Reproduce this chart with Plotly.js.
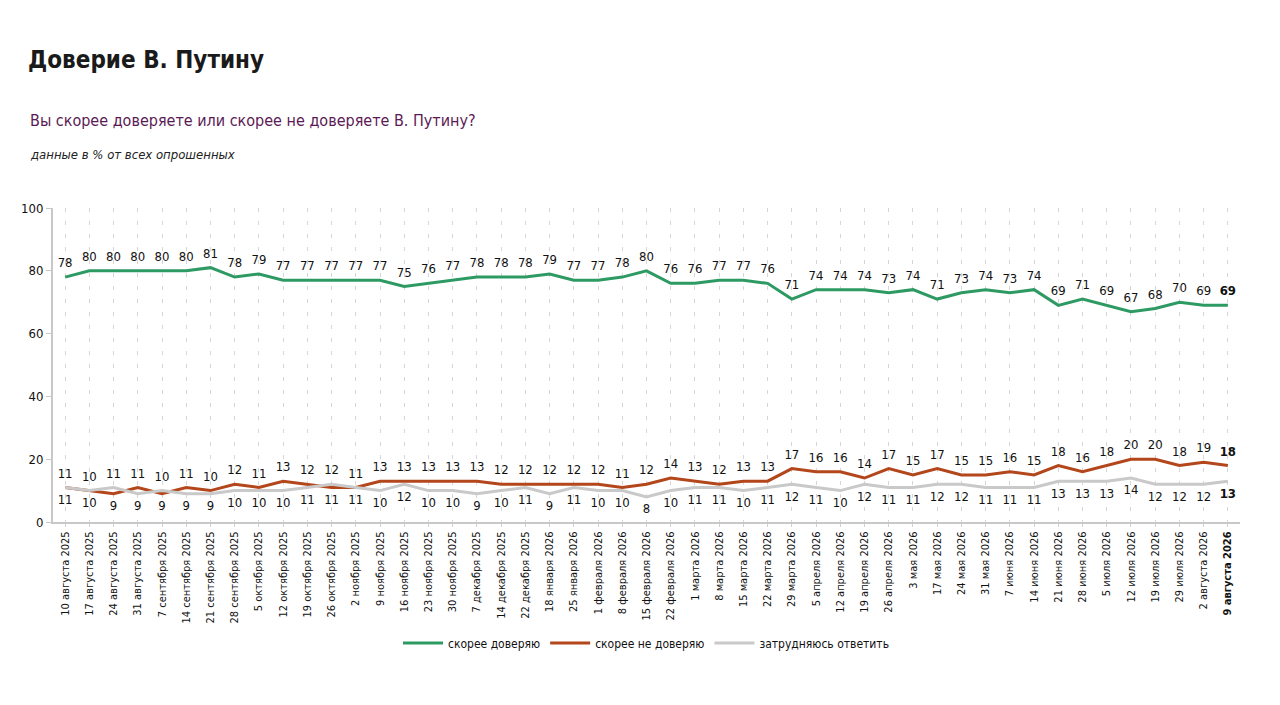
<!DOCTYPE html>
<html>
<head>
<meta charset="utf-8">
<script src="https://cdn.plot.ly/plotly-3.0.1.min.js"></script>
<style>
  html, body { margin: 0; padding: 0; background: #fff; }
  #chart { width: 1280px; height: 705px; }
</style>
</head>
<body>
<div id="chart"></div>
<script>
var dates = [
  '10 августа 2025', '17 августа 2025', '24 августа 2025', '31 августа 2025',
  '7 сентября 2025', '14 сентября 2025', '21 сентября 2025', '28 сентября 2025',
  '5 октября 2025', '12 октября 2025', '19 октября 2025', '26 октября 2025',
  '2 ноября 2025', '9 ноября 2025', '16 ноября 2025', '23 ноября 2025', '30 ноября 2025',
  '7 декабря 2025', '14 декабря 2025', '22 декабря 2025',
  '18 января 2026', '25 января 2026',
  '1 февраля 2026', '8 февраля 2026', '15 февраля 2026', '22 февраля 2026',
  '1 марта 2026', '8 марта 2026', '15 марта 2026', '22 марта 2026', '29 марта 2026',
  '5 апреля 2026', '12 апреля 2026', '19 апреля 2026', '26 апреля 2026',
  '3 мая 2026', '17 мая 2026', '24 мая 2026', '31 мая 2026',
  '7 июня 2026', '14 июня 2026', '21 июня 2026', '28 июня 2026',
  '5 июля 2026', '12 июля 2026', '19 июля 2026', '29 июля 2026',
  '2 августа 2026', '9 августа 2026'
];

var trust = [78, 80, 80, 80, 80, 80, 81, 78, 79, 77, 77, 77, 77, 77, 75, 76, 77,
  78, 78, 78, 79, 77, 77, 78, 80, 76, 76, 77, 77, 76, 71, 74, 74, 74, 73, 74,
  71, 73, 74, 73, 74, 69, 71, 69, 67, 68, 70, 69, 69];

var distrust = [11, 10, 9, 11, 9, 11, 10, 12, 11, 13, 12, 11, 11, 13, 13, 13, 13,
  13, 12, 12, 12, 12, 12, 11, 12, 14, 13, 12, 13, 13, 17, 16, 16, 14, 17, 15,
  17, 15, 15, 16, 15, 18, 16, 18, 20, 20, 18, 19, 18];

var unsure = [11, 10, 11, 9, 10, 9, 9, 10, 10, 10, 11, 12, 11, 10, 12, 10, 10,
  9, 10, 11, 9, 11, 10, 10, 8, 10, 11, 11, 10, 11, 12, 11, 10, 12, 11, 11,
  12, 12, 11, 11, 11, 13, 13, 13, 14, 12, 12, 12, 13];

var FONT = 'Liberation Sans Narrow, DejaVu Sans Condensed, Arial Narrow, sans-serif';
var last = dates.length - 1;

function labels(arr) {
  return arr.map(function(v, i) { return i == last ? '<b>' + v + '</b>' : String(v); });
}

var xs = dates.map(function(d, i) { return i; });
var ticks = dates.map(function(d, i) { return i == last ? '<b>' + d + '</b>' : d; });

// the higher of the two low lines gets its label on top
var posRed = distrust.map(function(v, i) { return v >= unsure[i] ? 'top center' : 'bottom center'; });
var posGray = unsure.map(function(v, i) { return v > distrust[i] ? 'top center' : 'bottom center'; });

// invisible markers just push the labels a bit away from the line
var ghost = {size: 9, color: 'rgba(0,0,0,0)'};

var trace1 = {
  x: xs, y: trust, name: 'скорее доверяю',
  type: 'scatter', mode: 'lines+markers+text',
  line: {color: '#2e9a63', width: 3}, marker: ghost,
  text: labels(trust), textposition: 'top center',
  textfont: {family: FONT, size: 13, color: '#111'},
  cliponaxis: false
};

var trace2 = {
  x: xs, y: distrust, name: 'скорее не доверяю',
  type: 'scatter', mode: 'lines+markers+text',
  line: {color: '#b3461b', width: 3}, marker: ghost,
  text: labels(distrust), textposition: posRed,
  textfont: {family: FONT, size: 13, color: '#111'},
  cliponaxis: false
};

var trace3 = {
  x: xs, y: unsure, name: 'затрудняюсь ответить',
  type: 'scatter', mode: 'lines+markers+text',
  line: {color: '#c9c9c9', width: 3}, marker: ghost,
  text: labels(unsure), textposition: posGray,
  textfont: {family: FONT, size: 13, color: '#111'},
  cliponaxis: false
};

var layout = {
  width: 1280, height: 705,
  margin: {l: 53, r: 40, t: 208, b: 183},
  paper_bgcolor: '#fff', plot_bgcolor: '#fff',
  font: {family: FONT, color: '#111'},
  showlegend: true,
  title: {
    text: '<b>Доверие В. Путину</b>',
    font: {family: FONT, size: 24, color: '#1a1a1a'},
    xref: 'container', yref: 'container',
    x: 28 / 1280, xanchor: 'left', y: 1 - 60 / 705, yanchor: 'middle'
  },
  annotations: [
    {
      text: 'Вы скорее доверяете или скорее не доверяете В. Путину?',
      xref: 'paper', yref: 'paper', x: (28 - 53) / 1187, y: (522 - 120) / 314,
      xanchor: 'left', yanchor: 'middle', showarrow: false,
      font: {family: FONT, size: 16, color: '#5b1a55'}
    },
    {
      text: '<i>данные в % от всех опрошенных</i>',
      xref: 'paper', yref: 'paper', x: (28 - 53) / 1187, y: (522 - 155) / 314,
      xanchor: 'left', yanchor: 'middle', showarrow: false,
      font: {family: FONT, size: 13, color: '#222'}
    }
  ],
  xaxis: {
    range: [-0.5, 48.5],
    tickvals: xs, ticktext: ticks, tickangle: -90,
    tickfont: {family: FONT, size: 11, color: '#111'},
    showgrid: true, gridcolor: '#d6d6d6', griddash: '4px,9px', gridwidth: 1,
    showline: true, linecolor: '#c8c8c8', linewidth: 2,
    ticks: 'outside', ticklen: 3, tickcolor: '#d0d0d0',
    zeroline: false, fixedrange: true
  },
  yaxis: {
    range: [0, 100], tickvals: [0, 20, 40, 60, 80, 100],
    tickfont: {family: FONT, size: 13, color: '#111'},
    showgrid: false, zeroline: false,
    showline: true, linecolor: '#c8c8c8', linewidth: 2,
    ticks: 'outside', ticklen: 5, tickcolor: '#c8c8c8',
    fixedrange: true
  },
  legend: {
    orientation: 'h', x: 0.5, xanchor: 'center',
    y: (522 - 643) / 314, yanchor: 'middle',
    font: {family: FONT, size: 12, color: '#111'},
    itemwidth: 40, tracegroupgap: 0
  }
};

Plotly.newPlot('chart', [trace1, trace2, trace3], layout, {displayModeBar: false, staticPlot: true});
</script>
</body>
</html>
